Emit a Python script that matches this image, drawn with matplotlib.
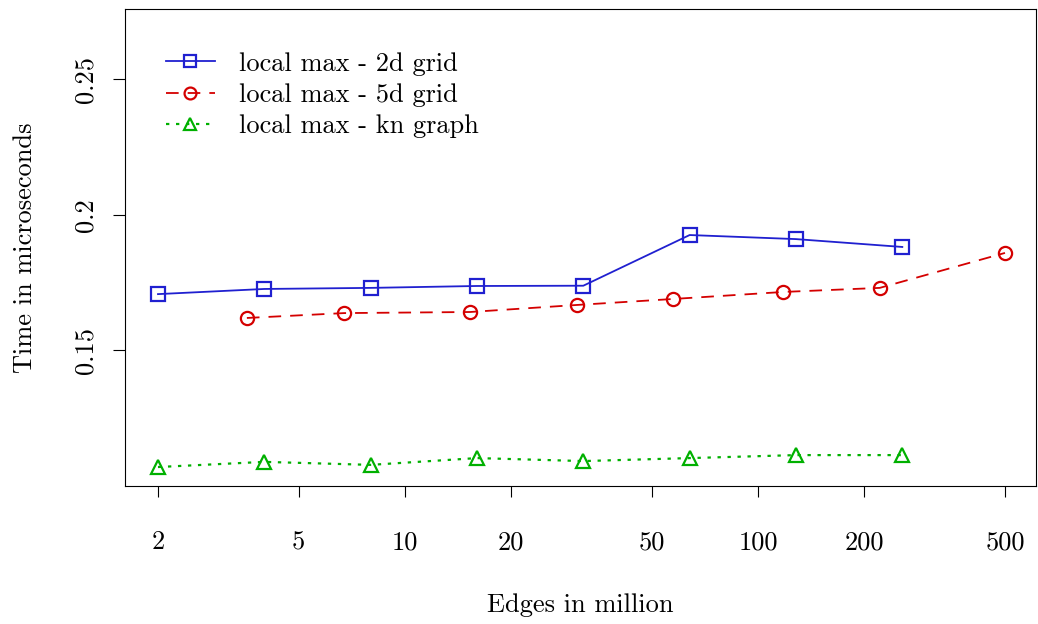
import matplotlib
matplotlib.use('Agg')
import matplotlib.pyplot as plt
from matplotlib.ticker import FixedLocator, FixedFormatter, NullLocator

plt.rcParams['font.family'] = ['cmr10', 'DejaVu Serif']
plt.rcParams['mathtext.fontset'] = 'cm'
plt.rcParams['axes.unicode_minus'] = False

# edges in million / time in microseconds
edges_2d = [2, 4, 8, 16, 32, 64, 128, 256]
time_2d = [0.1708, 0.1727, 0.1731, 0.1738, 0.1739, 0.1926, 0.1911, 0.1882]

edges_5d = [3.57, 6.73, 15.3, 30.7, 57.4, 118, 221, 500]
time_5d = [0.1620, 0.1638, 0.1642, 0.1668, 0.1690, 0.1716, 0.1731, 0.1860]

edges_kn = [2, 4, 8, 16, 32, 64, 128, 256]
time_kn = [0.1070, 0.1089, 0.1078, 0.1103, 0.1092, 0.1103, 0.1114, 0.1114]

xticks = [2, 5, 10, 20, 50, 100, 200, 500]
yticks = [0.15, 0.2, 0.25]

fs = 19

fig = plt.figure(figsize=(10.38, 6.24), dpi=100)
ax = fig.add_axes([125 / 1038, 1 - 486 / 624, 911 / 1038, 477 / 624])

mk = dict(markersize=9.5, markeredgewidth=1.6, markerfacecolor='none')
ax.plot(edges_2d, time_2d, color='#2020d0', marker='s', lw=1.3,
        label='local max - 2d grid', **mk)
ax.plot(edges_5d, time_5d, color='#d40000', marker='o', lw=1.3,
        linestyle=(0, (7, 5)), label='local max - 5d grid', **mk)
ax.plot(edges_kn, time_kn, color='#00b000', marker='^', lw=1.6,
        linestyle=(0, (1.5, 3)), label='local max - kn graph', **mk)

ax.set_xscale('log')
ax.set_xlim(1.613, 612)
ax.set_ylim(0.1, 0.276)

ax.xaxis.set_major_locator(FixedLocator(xticks))
ax.xaxis.set_major_formatter(FixedFormatter([str(v) for v in xticks]))
ax.xaxis.set_minor_locator(NullLocator())
ax.yaxis.set_major_locator(FixedLocator(yticks))
ax.yaxis.set_major_formatter(FixedFormatter(['0.15', '0.2', '0.25']))

ax.tick_params(axis='x', length=8, width=0.8, pad=24, labelsize=fs)
ax.tick_params(axis='y', length=8.5, width=0.8, pad=11, labelsize=fs)
for lab in ax.get_yticklabels():
    lab.set_rotation(90)
    lab.set_va('center')
for s in ax.spines.values():
    s.set_linewidth(0.8)

ax.set_xlabel('Edges in million', fontsize=fs, labelpad=28.5)
ax.set_ylabel('Time in microseconds', fontsize=fs, labelpad=27)

ax.legend(loc='upper left', bbox_to_anchor=(0.045, 0.91), frameon=False,
          fontsize=fs, handlelength=1.85, handletextpad=0.92,
          labelspacing=0.28, borderaxespad=0, borderpad=0,
          markerscale=0.9)

fig.savefig('out.png', dpi=100)
